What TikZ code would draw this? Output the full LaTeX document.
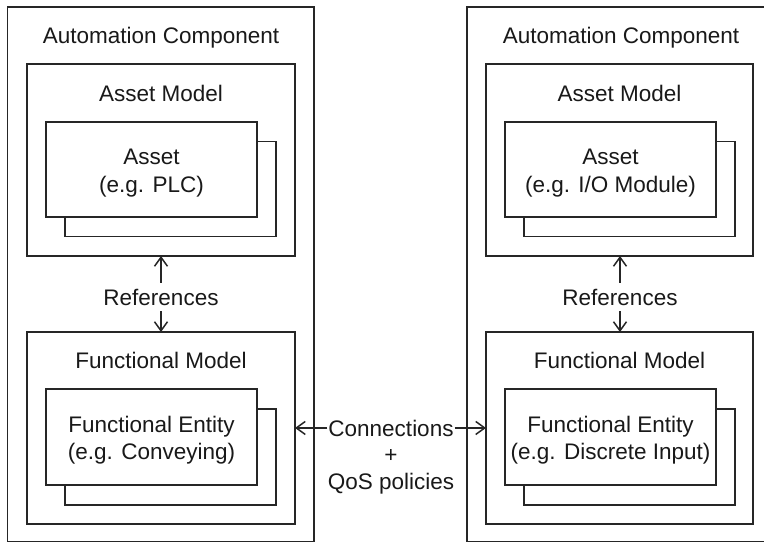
\documentclass[tikz,border=0pt]{standalone}
\usepackage{fontspec}
\setmainfont{Liberation Sans}
\usetikzlibrary{arrows.meta}
\begin{document}
\begin{tikzpicture}[x=1pt,y=-1pt,
  box/.style={draw=black!85, line width=1.8pt, fill=white, inner sep=0pt, outer sep=0pt, rectangle},
  lbl/.style={font=\fontsize{22.5}{28}\selectfont, inner sep=0pt, text=black!90},
  arr/.style={draw=black!85, line width=1.5pt, -{Straight Barb[length=9pt,width=13pt,line width=1.5pt]}}
]
\useasboundingbox (0,0) rectangle (764,542);
\clip (0,0) rectangle (764,542);
% outer components
\node[box, minimum width=306.5pt, minimum height=534.5pt] (acL) at (160.75,274.25) {};
\node[box, minimum width=340pt, minimum height=534.5pt] (acR) at (637,274.25) {};
\node[lbl, anchor=base] (acLt) at (161,43) {Automation Component};
\node[lbl, anchor=base] (acRt) at (621,43) {Automation Component};
% asset models
\node[box, minimum width=268pt, minimum height=192pt] (amL) at (161,160) {};
\node[box, minimum width=267pt, minimum height=192pt] (amR) at (619.5,160) {};
\node[lbl, anchor=base] (amLt) at (161,101) {Asset Model};
\node[lbl, anchor=base] (amRt) at (619.5,101) {Asset Model};
% assets (stacked)
\node[box, minimum width=211pt, minimum height=95pt] (asLb) at (170.5,189) {};
\node[box, minimum width=211pt, minimum height=95pt] (asL) at (151.5,169.5) {};
\node[box, minimum width=211pt, minimum height=95pt] (asRb) at (629.5,189) {};
\node[box, minimum width=211pt, minimum height=95pt] (asR) at (610.5,169.5) {};
\node[lbl, align=center] (asLt) at (151.5,173.5) {Asset\\(e.g. PLC)};
\node[lbl, align=center] (asRt) at (610.5,173.5) {Asset\\(e.g. I/O Module)};
% functional models
\node[box, minimum width=268pt, minimum height=192pt] (fmL) at (161,428) {};
\node[box, minimum width=267pt, minimum height=192pt] (fmR) at (619.5,428) {};
\node[lbl, anchor=base] (fmLt) at (161,368) {Functional Model};
\node[lbl, anchor=base] (fmRt) at (619.5,368) {Functional Model};
% functional entities (stacked)
\node[box, minimum width=211pt, minimum height=96pt] (feLb) at (170.5,457) {};
\node[box, minimum width=211pt, minimum height=96pt] (feL) at (151.5,437) {};
\node[box, minimum width=211pt, minimum height=96pt] (feRb) at (629.5,457) {};
\node[box, minimum width=211pt, minimum height=96pt] (feR) at (610.5,437) {};
\node[lbl, align=center, font=\fontsize{22.5}{27}\selectfont] (feLt) at (151.5,440.5) {Functional Entity\\(e.g. Conveying)};
\node[lbl, align=center, font=\fontsize{22.5}{27}\selectfont] (feRt) at (610.5,440.5) {Functional Entity\\(e.g. Discrete Input)};
% references
\node[lbl, anchor=base, inner ysep=6pt] (refL) at (161,305) {References};
\node[lbl, anchor=base, inner ysep=6pt] (refR) at (620,305) {References};
\draw[arr] (refL.north) -- (refL.north |- amL.south);
\draw[arr] (refL.south) -- (refL.south |- fmL.north);
\draw[arr] (refR.north) -- (refR.north |- amR.south);
\draw[arr] (refR.south) -- (refR.south |- fmR.north);
% connections
\node[lbl, anchor=base, inner xsep=1pt] (conn) at (391,436) {Connections};
\node[lbl, align=center, font=\fontsize{22.5}{27}\selectfont] (qos) at (391,472) {+\\QoS policies};
\draw[arr] (conn.west) -- (conn.west -| fmL.east);
\draw[arr] (conn.east) -- (conn.east -| fmR.west);
\end{tikzpicture}
\end{document}
